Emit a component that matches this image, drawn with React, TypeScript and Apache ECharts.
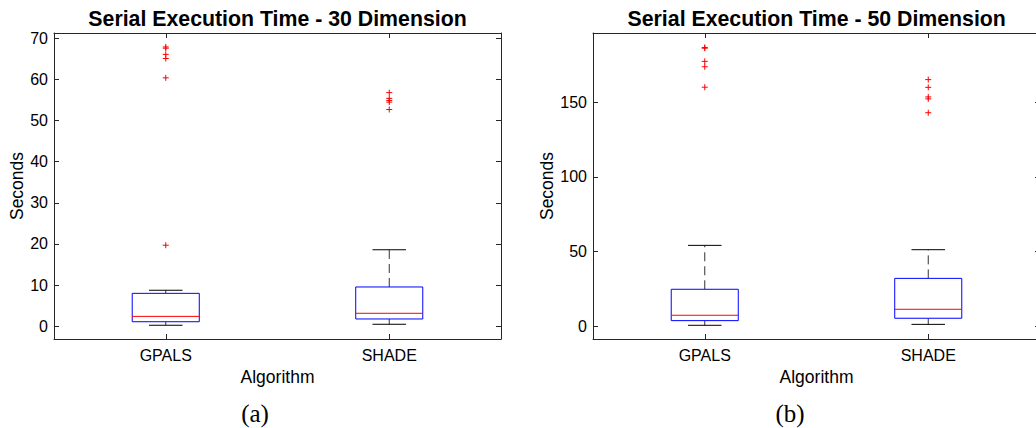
import React, { useEffect, useRef } from 'react';
import * as echarts from 'echarts';

const categories = ['GPALS', 'SHADE'];
// [lowerWhisker, q1, median, q3, upperWhisker]
const boxes30 = [
  [0.24, 1.1, 2.4, 8.0, 8.75],
  [0.48, 1.77, 3.15, 9.55, 18.6],
];
const outliers30GPALS = [67.9, 67.6, 66.1, 65.1, 60.4, 19.7];
const outliers30SHADE = [56.8, 55.4, 54.9, 54.5, 52.7];
const boxes50 = [
  [0.67, 3.8, 7.4, 24.8, 54.2],
  [1.3, 5.4, 11.4, 32.1, 51.3],
];
const outliers50GPALS = [186.7, 186.2, 177.4, 173.8, 160.1];
const outliers50SHADE = [165.2, 160.0, 153.6, 152.3, 143.0];
const yRange30 = [-3.1, 71.3];
const yStep30 = 10;
const yRange50 = [-8.5, 196.4];
const yStep50 = 50;
const titles = ['Serial Execution Time - 30 Dimension', 'Serial Execution Time - 50 Dimension'];
const captions = ['(a)', '(b)'];
const xName = 'Algorithm';
const yName = 'Seconds';

const SANS = '"Liberation Sans", Arial, Helvetica, sans-serif';
const AXIS = '#262626';

const renderBox = (params: any, api: any) => {
  const x = api.value(0);
  const lo = api.coord([x, api.value(1)]);
  const q1 = api.coord([x, api.value(2)]);
  const med = api.coord([x, api.value(3)]);
  const q3 = api.coord([x, api.value(4)]);
  const hi = api.coord([x, api.value(5)]);
  const band = api.size([1, 0])[0];
  const bw = band * 0.15;
  const cw = band * 0.075;
  const cx = q1[0];
  return {
    type: 'group',
    children: [
      { type: 'line', shape: { x1: cx, y1: q3[1], x2: cx, y2: hi[1] }, style: { stroke: '#333', lineWidth: 1, lineDash: [9, 5] } },
      { type: 'line', shape: { x1: cx, y1: q1[1], x2: cx, y2: lo[1] }, style: { stroke: '#333', lineWidth: 1, lineDash: [9, 5] } },
      { type: 'line', shape: { x1: cx - cw, y1: hi[1], x2: cx + cw, y2: hi[1] }, style: { stroke: '#000', lineWidth: 1 } },
      { type: 'line', shape: { x1: cx - cw, y1: lo[1], x2: cx + cw, y2: lo[1] }, style: { stroke: '#000', lineWidth: 1 } },
      { type: 'rect', shape: { x: cx - bw, y: q3[1], width: bw * 2, height: q1[1] - q3[1] }, style: { fill: '#fff', stroke: '#0000ff', lineWidth: 1 } },
      { type: 'line', shape: { x1: cx - bw, y1: med[1], x2: cx + bw, y2: med[1] }, style: { stroke: '#ff0000', lineWidth: 1 } },
    ],
  };
};

const renderPlus = (params: any, api: any) => {
  const p = api.coord([api.value(0), api.value(1)]);
  const h = 3;
  return {
    type: 'group',
    children: [
      { type: 'line', shape: { x1: p[0] - h, y1: p[1], x2: p[0] + h, y2: p[1] }, style: { stroke: '#ff0000', lineWidth: 1 } },
      { type: 'line', shape: { x1: p[0], y1: p[1] - h, x2: p[0], y2: p[1] + h }, style: { stroke: '#ff0000', lineWidth: 1 } },
    ],
  };
};

export default function App() {
  const ref = useRef<HTMLDivElement>(null);
  useEffect(() => {
    if (!ref.current) return;
    const chart = echarts.init(ref.current, undefined, { renderer: 'svg' });
    const grids = [
      { left: 54, top: 33, width: 447, height: 306 },
      { left: 593, top: 33, width: 447, height: 306 },
    ];
    const ranges = [yRange30, yRange50];
    const steps = [yStep30, yStep50];
    const nameGaps = [27, 36];
    const boxesAll = [boxes30, boxes50];
    const outAll = [
      [outliers30GPALS, outliers30SHADE],
      [outliers50GPALS, outliers50SHADE],
    ];
    const xAxes: any[] = [];
    const yAxes: any[] = [];
    const series: any[] = [];
    grids.forEach((g, gi) => {
      xAxes.push({
        type: 'category', gridIndex: gi, data: categories, position: 'bottom',
        boundaryGap: true,
        name: xName, nameLocation: 'middle', nameGap: 28,
        nameTextStyle: { fontFamily: SANS, fontSize: 17.5, color: '#000' },
        axisLine: { show: true, onZero: false, lineStyle: { color: AXIS, width: 1 } },
        axisTick: { show: true, inside: true, length: 5, alignWithLabel: true, lineStyle: { color: AXIS } },
        axisLabel: { show: true, fontFamily: SANS, fontSize: 16, color: '#000', margin: 8 },
        splitLine: { show: false },
      });
      xAxes.push({
        type: 'category', gridIndex: gi, data: categories, position: 'top',
        boundaryGap: true,
        axisLine: { show: true, onZero: false, lineStyle: { color: AXIS, width: 1 } },
        axisTick: { show: true, inside: true, length: 5, alignWithLabel: true, lineStyle: { color: AXIS } },
        axisLabel: { show: false },
        splitLine: { show: false },
      });
      const base = {
        type: 'value', gridIndex: gi, min: ranges[gi][0], max: ranges[gi][1],
        minInterval: steps[gi], maxInterval: steps[gi], splitNumber: 7,
        splitLine: { show: false },
        axisLine: { show: true, onZero: false, lineStyle: { color: AXIS, width: 1 } },
        axisTick: { show: true, inside: true, length: 5, lineStyle: { color: AXIS } },
      };
      yAxes.push({
        ...base, position: 'left',
        name: yName, nameLocation: 'middle', nameGap: nameGaps[gi], nameRotate: 90,
        nameTextStyle: { fontFamily: SANS, fontSize: 17.5, color: '#000' },
        axisLabel: { show: true, fontFamily: SANS, fontSize: 16, color: '#000', margin: 6, showMinLabel: false, showMaxLabel: false },
      });
      yAxes.push({
        ...base, position: 'right',
        axisLabel: { show: false },
      });
      series.push({
        type: 'custom', xAxisIndex: gi * 2, yAxisIndex: gi * 2,
        renderItem: renderBox,
        encode: { x: 0, y: [1, 2, 3, 4, 5] },
        data: boxesAll[gi].map((b, i) => [i, ...b]),
        silent: true,
      });
      const pts: number[][] = [];
      outAll[gi].forEach((arr, ci) => arr.forEach((v) => pts.push([ci, v])));
      series.push({
        type: 'custom', xAxisIndex: gi * 2, yAxisIndex: gi * 2,
        renderItem: renderPlus,
        encode: { x: 0, y: 1 },
        data: pts,
        silent: true,
      });
    });
    const titleX = [277.5, 816.7];
    const capX = [255, 790];
    const graphic: any[] = [];
    titles.forEach((t, i) => {
      graphic.push({
        type: 'text', x: titleX[i], y: 18.5,
        style: { text: t, fontFamily: SANS, fontSize: 21.3, fontWeight: 'bold', fill: '#000', align: 'center', verticalAlign: 'middle' },
      });
      graphic.push({
        type: 'text', x: capX[i], y: 413,
        style: { text: captions[i], fontFamily: '"Liberation Serif", "Times New Roman", serif', fontSize: 25, fill: '#000', align: 'center', verticalAlign: 'middle' },
      });
    });
    chart.setOption({
      animation: false,
      backgroundColor: '#fff',
      grid: grids.map((g) => ({ ...g, containLabel: false, outerBoundsMode: 'none', show: false })),
      xAxis: xAxes,
      yAxis: yAxes,
      series,
      graphic,
    });
    return () => chart.dispose();
  }, []);
  return (
    <div
      ref={ref}
      style={{ position: 'fixed', left: 0, top: 0, width: 1036, height: 428, background: '#fff' }}
    />
  );
}
